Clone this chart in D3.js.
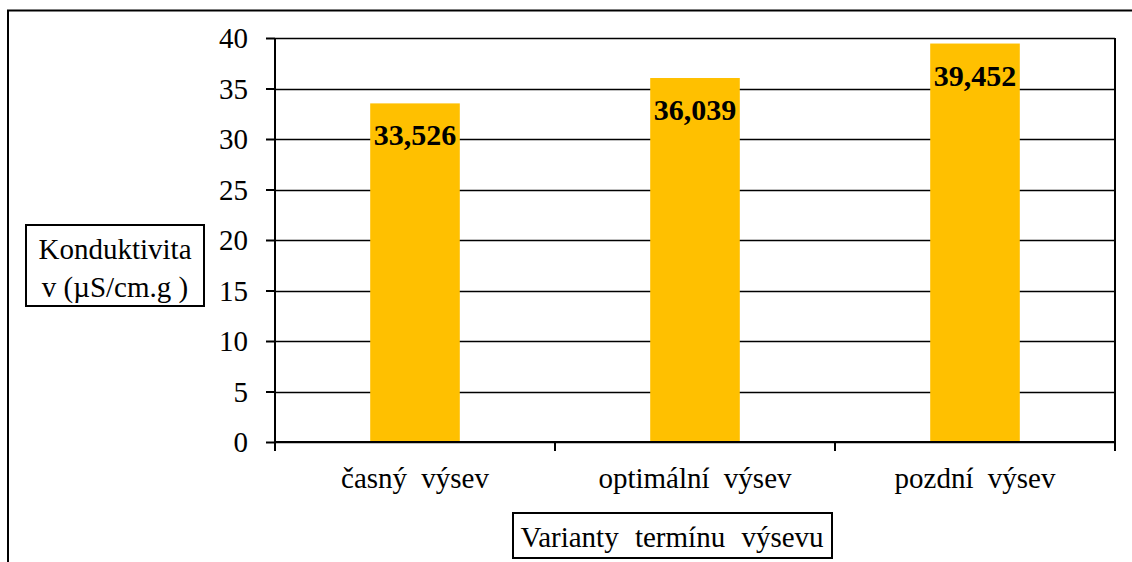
<!DOCTYPE html>
<html>
<head>
<meta charset="utf-8">
<script src="https://cdn.jsdelivr.net/npm/d3@7"></script>
<style>
  body { margin: 0; background: #fff; }
</style>
</head>
<body>
<div id="chart"></div>
<script>
const categories = ["časný výsev", "optimální výsev", "pozdní výsev"];
const values = [33.526, 36.039, 39.452];
const yTicks = [0, 5, 10, 15, 20, 25, 30, 35, 40];
const valueLabels = ["33,526", "36,039", "39,452"];

const FONT = "'Liberation Serif', 'Times New Roman', Times, serif";
const W = 1132, H = 562;
const MARGIN = { TOP: 38, LEFT: 275, RIGHT: 17, BOTTOM: 120 };
const WIDTH = W - MARGIN.LEFT - MARGIN.RIGHT;
const HEIGHT = H - MARGIN.TOP - MARGIN.BOTTOM;

const svg = d3.select("#chart").append("svg")
    .attr("width", W)
    .attr("height", H)
    .style("font-family", FONT);

// outer frame (right and bottom run off the picture)
svg.append("rect")
    .attr("x", 8).attr("y", 10.5)
    .attr("width", 1200).attr("height", 600)
    .attr("fill", "none").attr("stroke", "#000").attr("stroke-width", 2);

const g = svg.append("g")
    .attr("transform", `translate(${MARGIN.LEFT}, ${MARGIN.TOP})`);

const y = d3.scaleLinear().domain([0, 40]).range([HEIGHT, 0]);
const x = d3.scaleBand().domain(categories).range([0, WIDTH]);

// gridlines
g.selectAll(".grid")
    .data(yTicks)
    .enter().append("line")
    .attr("x1", 0).attr("x2", WIDTH)
    .attr("y1", d => Math.round(y(d)) + 0.5)
    .attr("y2", d => Math.round(y(d)) + 0.5)
    .attr("stroke", "#000").attr("stroke-width", 1.6);

// right border of plot area
g.append("line")
    .attr("x1", WIDTH).attr("x2", WIDTH)
    .attr("y1", 0).attr("y2", HEIGHT + 9)
    .attr("stroke", "#000").attr("stroke-width", 2);

// bars
const barW = x.bandwidth() * 0.32;
g.selectAll(".bar")
    .data(values)
    .enter().append("rect")
    .attr("x", (d, i) => x(categories[i]) + x.bandwidth() / 2 - barW / 2)
    .attr("y", d => y(d))
    .attr("width", barW)
    .attr("height", d => HEIGHT - y(d))
    .attr("fill", "#ffc000");

// value labels
g.selectAll(".lbl")
    .data(values)
    .enter().append("text")
    .attr("x", (d, i) => x(categories[i]) + x.bandwidth() / 2)
    .attr("y", d => y(d) + 42)
    .attr("text-anchor", "middle")
    .style("font-family", FONT)
    .style("font-weight", "bold")
    .style("font-size", "30px")
    .text((d, i) => valueLabels[i]);

// y axis
const yAxis = d3.axisLeft(y).tickValues(yTicks).tickSize(9).tickPadding(18);
const ya = g.append("g").call(yAxis).attr("font-family", null);
ya.select(".domain").attr("stroke-width", 2).attr("d", `M0,0V${HEIGHT + 9}`);
ya.selectAll(".tick line").attr("stroke-width", 2);
ya.selectAll(".tick text")
    .attr("dy", "0.34em")
    .style("font-family", FONT)
    .style("font-size", "29px");

// x axis
const xa = g.append("g").attr("transform", `translate(0, ${HEIGHT})`);
xa.append("line").attr("x1", 0).attr("x2", WIDTH)
    .attr("stroke", "#000").attr("stroke-width", 2);
xa.selectAll(".xt")
    .data(d3.range(categories.length + 1))
    .enter().append("line")
    .attr("x1", i => i * x.step()).attr("x2", i => i * x.step())
    .attr("y1", 0).attr("y2", 9)
    .attr("stroke", "#000").attr("stroke-width", 2);
xa.selectAll(".xl")
    .data(categories)
    .enter().append("text")
    .attr("x", d => x(d) + x.bandwidth() / 2)
    .attr("y", 46)
    .attr("text-anchor", "middle")
    .style("font-family", FONT)
    .style("font-size", "29px")
    .style("word-spacing", "7px")
    .text(d => d);

// y title box
svg.append("rect")
    .attr("x", 26).attr("y", 225).attr("width", 178).attr("height", 81)
    .attr("fill", "#fff").attr("stroke", "#000").attr("stroke-width", 2);
svg.append("text").attr("x", 115).attr("y", 259)
    .attr("text-anchor", "middle")
    .style("font-family", FONT).style("font-size", "29px")
    .text("Konduktivita");
svg.append("text").attr("x", 115).attr("y", 297)
    .attr("text-anchor", "middle")
    .style("font-family", FONT).style("font-size", "29px")
    .text("v (µS/cm.g )");

// x title box
svg.append("rect")
    .attr("x", 513).attr("y", 513).attr("width", 319).attr("height", 45)
    .attr("fill", "#fff").attr("stroke", "#000").attr("stroke-width", 2);
svg.append("text").attr("x", 672).attr("y", 547)
    .attr("text-anchor", "middle")
    .style("font-family", FONT).style("font-size", "29px")
    .style("word-spacing", "9px")
    .text("Varianty termínu výsevu");
</script>
</body>
</html>
